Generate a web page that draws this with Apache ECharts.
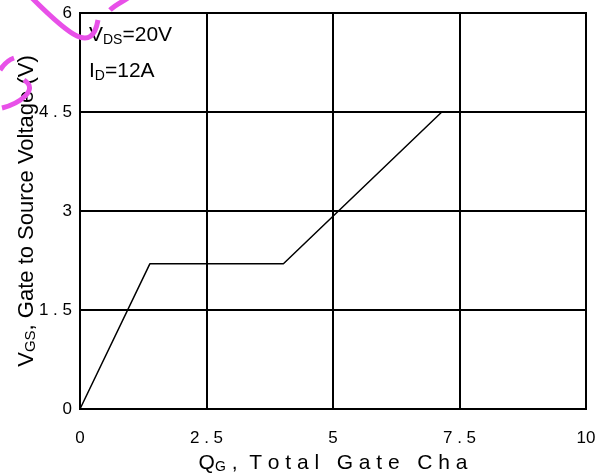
<!DOCTYPE html>
<html>
<head>
<meta charset="utf-8">
<script src="https://cdn.jsdelivr.net/npm/echarts@6/dist/echarts.min.js"></script>
<style>html,body{margin:0;padding:0;background:#fff;}#c{width:603px;height:473px;}</style>
</head>
<body>
<div id="c"></div>
<script>
// Data
const qg = [0, 1.38, 4.02, 7.15];
const vgs = [0, 2.2, 2.2, 4.5];
const xTicks = [0, 2.5, 5, 7.5, 10];
const xTickLabels = ['0', '2 . 5', '5', '7 . 5', '10'];
const yTicks = [0, 1.5, 3, 4.5, 6];
const yTickLabels = ['0', '1 . 5', '3', '4 . 5', '6'];
const notes = ['V{s|DS}=20V', 'I{s|D}=12A'];

const chart = echarts.init(document.getElementById('c'), null, {renderer: 'canvas'});
const font = 'Liberation Sans, Arial, sans-serif';
function lab(ticks, labels) {
  return v => { const i = ticks.indexOf(Math.round(v * 100) / 100); return i >= 0 ? labels[i] : ''; };
}
const pink = 'rgb(232,80,232)';
const option = {
  backgroundColor: '#fff',
  animation: false,
  grid: {left: 80, right: 17, top: 13, bottom: 64, containLabel: false, outerBoundsMode: 'none',
    show: true, borderColor: '#000', borderWidth: 2},
  xAxis: {
    type: 'value', min: 0, max: 10, interval: 2.5,
    axisLine: {show: true, lineStyle: {color: '#000', width: 2}},
    axisTick: {show: false},
    splitLine: {show: true, lineStyle: {color: '#000', width: 2}},
    axisLabel: {color: '#000', fontFamily: font, fontSize: 17, margin: 21, formatter: lab(xTicks, xTickLabels)},
    name: '{m|Q}{s|G}{m| ,  T o t a l   G a t e   C h a}',
    nameLocation: 'middle', nameGap: 41, nameMoveOverlap: false,
    nameTextStyle: {
      rich: {
        m: {fontFamily: font, fontSize: 21, color: '#000', verticalAlign: 'bottom', lineHeight: 24},
        s: {fontFamily: font, fontSize: 14, color: '#000', verticalAlign: 'bottom', lineHeight: 14}
      }
    }
  },
  yAxis: {
    type: 'value', min: 0, max: 6, interval: 1.5,
    axisLine: {show: true, lineStyle: {color: '#000', width: 2}},
    axisTick: {show: false},
    splitLine: {show: true, lineStyle: {color: '#000', width: 2}},
    axisLabel: {color: '#000', fontFamily: font, fontSize: 17, margin: 8, formatter: lab(yTicks, yTickLabels)},
    name: '{m|V}{s|GS}{m|, Gate to Source Voltage (V)}',
    nameLocation: 'middle', nameGap: 42, nameRotate: 90, nameMoveOverlap: false,
    nameTextStyle: {
      rich: {
        m: {fontFamily: font, fontSize: 22, color: '#000', verticalAlign: 'bottom', lineHeight: 26},
        s: {fontFamily: font, fontSize: 15, color: '#000', verticalAlign: 'bottom', lineHeight: 15}
      }
    }
  },
  series: [{
    type: 'line',
    data: qg.map((x, i) => [x, vgs[i]]),
    symbol: 'none',
    lineStyle: {color: '#000', width: 1.5},
    z: 5
  }],
  graphic: [
    {type: 'text', left: 89, top: 25, style: {text: notes[0], fill: '#000', font: '21px ' + font,
      rich: {s: {fontSize: 14, fontFamily: font, fill: '#000', verticalAlign: 'bottom', padding: [9, 0, 0, 0]}}}},
    {type: 'text', left: 89, top: 61, style: {text: notes[1], fill: '#000', font: '21px ' + font,
      rich: {s: {fontSize: 14, fontFamily: font, fill: '#000', verticalAlign: 'bottom', padding: [9, 0, 0, 0]}}}},
    {type: 'bezierCurve', z: 100, shape: {x1: 32, y1: -2, x2: 98, y2: 20, cpx1: 70, cpy1: 36, cpx2: 92, cpy2: 54},
      style: {stroke: pink, lineWidth: 5, fill: null}},
    {type: 'bezierCurve', z: 100, shape: {x1: 110, y1: 10, x2: 128, y2: -2, cpx1: 115, cpy1: 5, cpx2: 122, cpy2: 2},
      style: {stroke: pink, lineWidth: 5, fill: null}},
    {type: 'bezierCurve', z: 100, shape: {x1: 0, y1: 70, x2: 14, y2: 58, cpx1: 4, cpy1: 64, cpx2: 8, cpy2: 60},
      style: {stroke: pink, lineWidth: 5, fill: null}},
    {type: 'bezierCurve', z: 100, shape: {x1: 2, y1: 108, x2: 24, y2: 80, cpx1: 18, cpy1: 104, cpx2: 40, cpy2: 90},
      style: {stroke: pink, lineWidth: 5, fill: null}}
  ]
};
chart.setOption(option);
</script>
</body>
</html>
